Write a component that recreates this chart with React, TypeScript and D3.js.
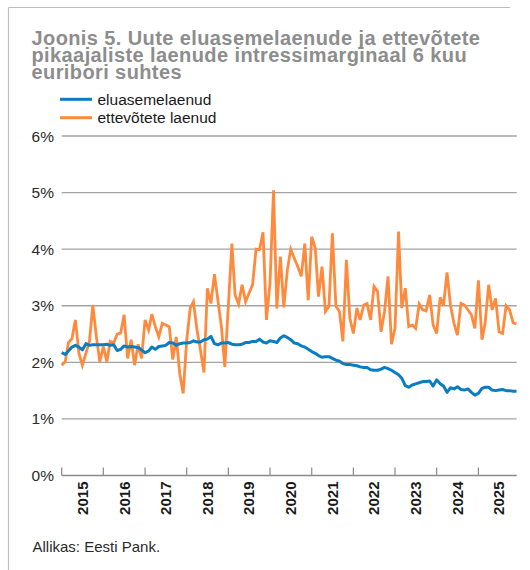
import React from "react";
import * as d3 from "d3";

const TITLE_LINES = [
  "Joonis 5. Uute eluasemelaenude ja ettevõtete",
  "pikaajaliste laenude intressimarginaal 6 kuu",
  "euribori suhtes",
];
const SERIES_NAMES = ["eluasemelaenud", "ettevõtete laenud"];
const SOURCE = "Allikas: Eesti Pank.";
const START_YEAR = 2015;
const START_MONTH = 0;
const YEARS = [2015, 2016, 2017, 2018, 2019, 2020, 2021, 2022, 2023, 2024, 2025];
const Y_TICKS = [0, 1, 2, 3, 4, 5, 6];

const housing = [
  2.17, 2.14, 2.2, 2.27, 2.3, 2.27, 2.22, 2.33, 2.3, 2.31, 2.31, 2.31,
  2.31, 2.32, 2.3, 2.31, 2.21, 2.23, 2.29, 2.27, 2.28, 2.27, 2.26, 2.22,
  2.17, 2.2, 2.27, 2.23, 2.28, 2.29, 2.3, 2.35, 2.34, 2.3, 2.33, 2.34,
  2.34, 2.35, 2.38, 2.36, 2.36, 2.4, 2.41, 2.46, 2.33, 2.31, 2.34, 2.34,
  2.35, 2.32, 2.31, 2.31, 2.32, 2.35, 2.35, 2.37, 2.37, 2.41, 2.36, 2.34,
  2.38, 2.37, 2.35, 2.43, 2.47, 2.44, 2.4, 2.34, 2.33, 2.29, 2.27, 2.23,
  2.19, 2.16, 2.12, 2.09, 2.1, 2.1, 2.07, 2.04, 2.02, 1.98, 1.96, 1.96,
  1.95, 1.94, 1.92, 1.91, 1.91, 1.87, 1.86, 1.86, 1.88, 1.91, 1.89, 1.86,
  1.82, 1.78, 1.72, 1.59, 1.56, 1.6, 1.62, 1.64, 1.66, 1.66, 1.67, 1.58,
  1.69, 1.62, 1.58, 1.47, 1.55, 1.53, 1.57, 1.52, 1.51, 1.53, 1.47, 1.42,
  1.45, 1.54, 1.56, 1.56, 1.51, 1.5, 1.51, 1.52, 1.5, 1.5, 1.49, 1.49,
];

const business = [
  1.95, 2.01, 2.35, 2.42, 2.75, 2.16, 1.95, 2.16, 2.37, 3.01, 2.45, 2.01,
  2.28, 2.01, 2.37, 2.34, 2.5, 2.52, 2.84, 2.07, 2.4, 1.95, 2.32, 2.07,
  2.75, 2.57, 2.85, 2.63, 2.45, 2.69, 2.66, 2.63, 2.05, 2.45, 1.8, 1.45,
  2.4, 2.96, 3.07, 2.57, 2.22, 1.82, 3.31, 3.04, 3.56, 3.1, 2.63, 1.92,
  3.0, 4.1, 3.19, 3.03, 3.37, 3.07, 3.22, 3.37, 4.0, 3.99, 4.3, 2.75,
  3.4, 5.04, 2.95, 3.87, 2.97, 3.63, 4.0, 3.84, 3.69, 3.52, 4.1, 3.1,
  4.22, 4.02, 3.16, 3.69, 2.9, 2.99, 4.28, 2.99, 2.9, 2.37, 3.81, 2.78,
  2.51, 2.96, 2.75, 3.01, 3.04, 2.75, 3.34, 3.25, 2.54, 2.9, 3.52, 2.32,
  2.6, 4.31, 2.96, 3.31, 2.63, 2.66, 2.6, 3.03, 2.93, 2.91, 3.19, 2.66,
  2.51, 3.15, 3.0, 3.59, 3.01, 2.69, 2.48, 3.04, 3.01, 2.93, 2.84, 2.6,
  3.45, 2.4, 2.69, 3.37, 2.93, 3.13, 2.54, 2.51, 3.0, 2.93, 2.7, 2.68,
];

const COLORS = ["#0a7cc2", "#ff8a3d"];
const FONT = "'Liberation Sans', Arial, Helvetica, sans-serif";

export default function App() {
  const W = 530;
  const H = 570;
  const dates = housing.map((_, i) => new Date(START_YEAR, START_MONTH + i, 1));
  const x = d3
    .scaleTime()
    .domain([dates[0], dates[dates.length - 1]])
    .range([61.7, 516.5]);
  const y = d3.scaleLinear().domain([0, 6]).range([475.5, 136]);
  const line = d3
    .line<number>()
    .x((_, i) => x(dates[i]))
    .y((d) => y(d))
    .curve(d3.curveLinear);

  const axisY = y(0);
  const x0 = 61.7;
  const x1 = 516.7;

  return (
    <svg
      width={W}
      height={H}
      style={{ position: "absolute", left: 0, top: 0, background: "#fff" }}
      fontFamily={FONT}
    >
      {/* frame */}
      <line x1={8.5} y1={7.5} x2={510} y2={7.5} stroke="#bdbdbd" strokeWidth={1.2} />
      <line x1={8.5} y1={7.5} x2={8.5} y2={570} stroke="#bdbdbd" strokeWidth={1.2} />

      {/* title */}
      {TITLE_LINES.map((t, i) => (
        <text
          key={t}
          x={31.5}
          y={45 + i * 16.8}
          fontSize={20}
          fontWeight="bold"
          letterSpacing={0.4}
          fill="#8d8d8d"
        >
          {t}
        </text>
      ))}

      {/* legend */}
      {SERIES_NAMES.map((name, i) => (
        <g key={name}>
          <line
            x1={60}
            x2={92}
            y1={99.3 + i * 18.4}
            y2={99.3 + i * 18.4}
            stroke={COLORS[i]}
            strokeWidth={3}
          />
          <text x={97.5} y={104.8 + i * 18.4} fontSize={15.5} fill="#1a1a1a">
            {name}
          </text>
        </g>
      ))}

      {/* gridlines */}
      {Y_TICKS.filter((t) => t > 0).map((t) => (
        <line
          key={t}
          x1={x0}
          x2={x1}
          y1={y(t)}
          y2={y(t)}
          stroke="#a3a3a3"
          strokeWidth={1.3}
        />
      ))}
      {Y_TICKS.map((t) => (
        <text
          key={"l" + t}
          x={54}
          y={y(t)}
          dy="0.36em"
          textAnchor="end"
          fontSize={15.5}
          fill="#2a2a2a"
        >
          {t}%
        </text>
      ))}

      {/* x axis */}
      <line x1={x0} x2={x1} y1={axisY} y2={axisY} stroke="#8a8a8a" strokeWidth={1.3} />
      {YEARS.map((yr) => (
        <line
          key={"t" + yr}
          x1={x(new Date(yr, 0, 1))}
          x2={x(new Date(yr, 0, 1))}
          y1={axisY}
          y2={axisY - 8}
          stroke="#8a8a8a"
          strokeWidth={1.2}
        />
      ))}
      {YEARS.map((yr) => {
        const cx = x(new Date(yr, 6, 1));
        return (
          <text
            key={"y" + yr}
            transform={`translate(${cx},${481.5}) rotate(-90)`}
            textAnchor="end"
            dy="0.36em"
            fontSize={15}
            fontWeight="bold"
            fill="#1a1a1a"
          >
            {yr}
          </text>
        );
      })}

      {/* series */}
      <path d={line(business) || ""} fill="none" stroke={COLORS[1]} strokeWidth={2.8} strokeLinejoin="miter" />
      <path d={line(housing) || ""} fill="none" stroke={COLORS[0]} strokeWidth={3} strokeLinejoin="round" />

      {/* source */}
      <text x={32.5} y={552} fontSize={15} fill="#2a2a2a">
        {SOURCE}
      </text>
    </svg>
  );
}
